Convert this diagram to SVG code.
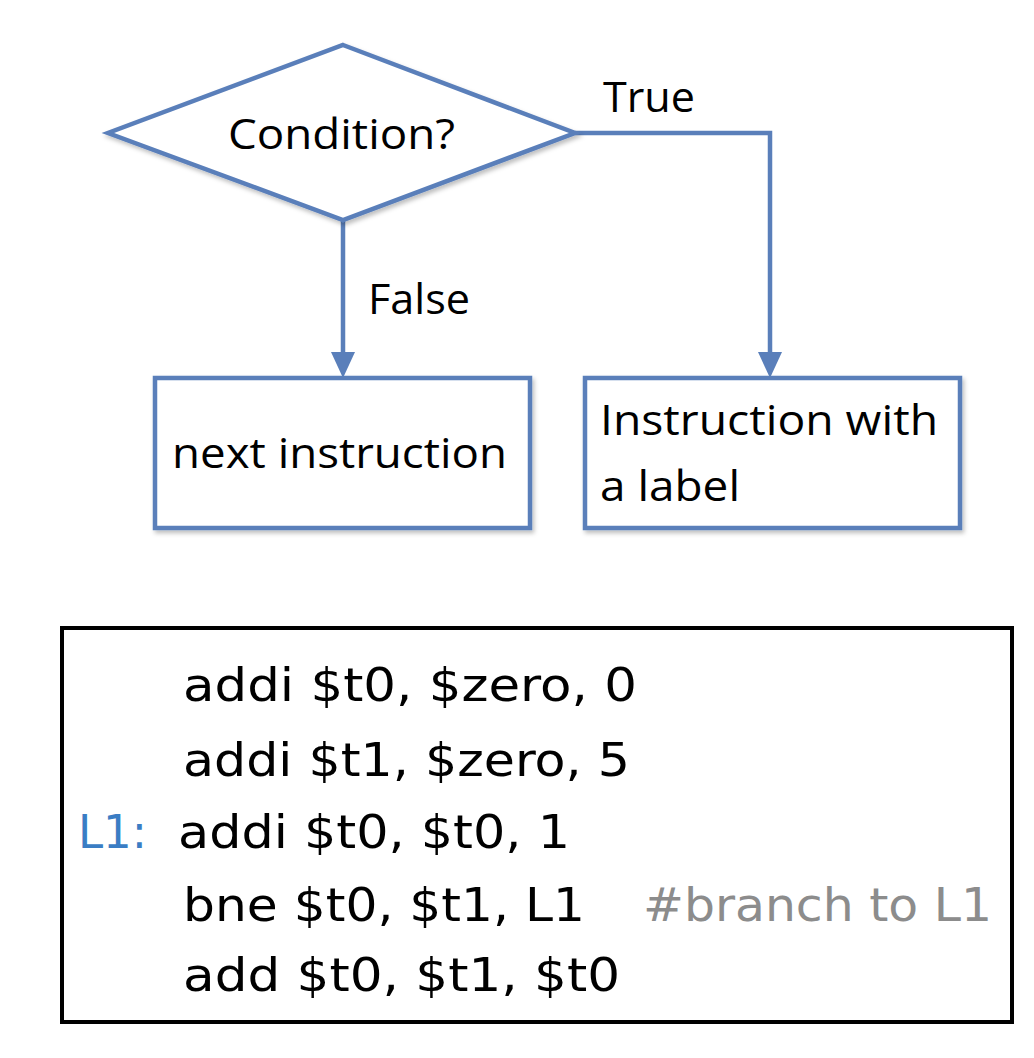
<svg xmlns="http://www.w3.org/2000/svg" width="1034" height="1058" viewBox="0 0 1034 1058">
<defs>
<filter id="sh" x="-10%" y="-10%" width="120%" height="130%">
<feDropShadow dx="2" dy="3" stdDeviation="2" flood-color="#000" flood-opacity="0.25"/>
</filter>
</defs>
<style>
.shape{fill:#fff;stroke:#5A7FBA;stroke-width:4.5}
.line{fill:none;stroke:#5A7FBA;stroke-width:4.5}
.head{fill:#5A7FBA}
.lbl{font-family:"Open Sans","Liberation Sans",sans-serif;font-size:42px;fill:#000}
.code{font-family:"DejaVu Sans","Liberation Sans",sans-serif;font-size:47px;fill:#000}
.blue{fill:#3A7DC4}
.gray{fill:#8C8C8C}
</style>
<rect width="1034" height="1058" fill="#fff"/>
<g id="connectors">
<path class="line" d="M343,220 V354"/>
<polygon class="head" points="331,352 355,352 343,378"/>
<path class="line" d="M575,133 H770 V354"/>
<polygon class="head" points="758,352 782,352 770,378"/>
<text class="lbl" x="603" y="112" textLength="92" lengthAdjust="spacingAndGlyphs">True</text>
<text class="lbl" x="368" y="314" textLength="102" lengthAdjust="spacingAndGlyphs">False</text>
</g>
<g id="condition">
<polygon class="shape" filter="url(#sh)" points="343,45 575,133 343,220 108,133"/>
<text class="lbl" x="228" y="149" textLength="227" lengthAdjust="spacingAndGlyphs">Condition?</text>
</g>
<g id="next">
<rect class="shape" filter="url(#sh)" x="155" y="378" width="375" height="150"/>
<text class="lbl" x="172" y="468" textLength="335" lengthAdjust="spacingAndGlyphs">next instruction</text>
</g>
<g id="labeled">
<rect class="shape" filter="url(#sh)" x="585" y="378" width="375" height="150"/>
<text class="lbl" x="600" y="435" textLength="338" lengthAdjust="spacingAndGlyphs">Instruction with</text>
<text class="lbl" x="600" y="501" textLength="140" lengthAdjust="spacingAndGlyphs">a label</text>
</g>
<g id="code">
<rect x="62" y="628" width="950" height="394" fill="#fff" stroke="#000" stroke-width="4"/>
<text class="code" x="183" y="701" textLength="454" lengthAdjust="spacingAndGlyphs">addi $t0, $zero, 0</text>
<text class="code" x="183" y="776" textLength="447" lengthAdjust="spacingAndGlyphs">addi $t1, $zero, 5</text>
<text class="code blue" x="78" y="848" textLength="69" lengthAdjust="spacingAndGlyphs">L1:</text>
<text class="code" x="178" y="848" textLength="392" lengthAdjust="spacingAndGlyphs">addi $t0, $t0, 1</text>
<text class="code" x="183" y="921" textLength="402" lengthAdjust="spacingAndGlyphs">bne $t0, $t1, L1</text>
<text class="code gray" x="643" y="921" textLength="349" lengthAdjust="spacingAndGlyphs">#branch to L1</text>
<text class="code" x="183" y="991" textLength="437" lengthAdjust="spacingAndGlyphs">add $t0, $t1, $t0</text>
</g>
</svg>
